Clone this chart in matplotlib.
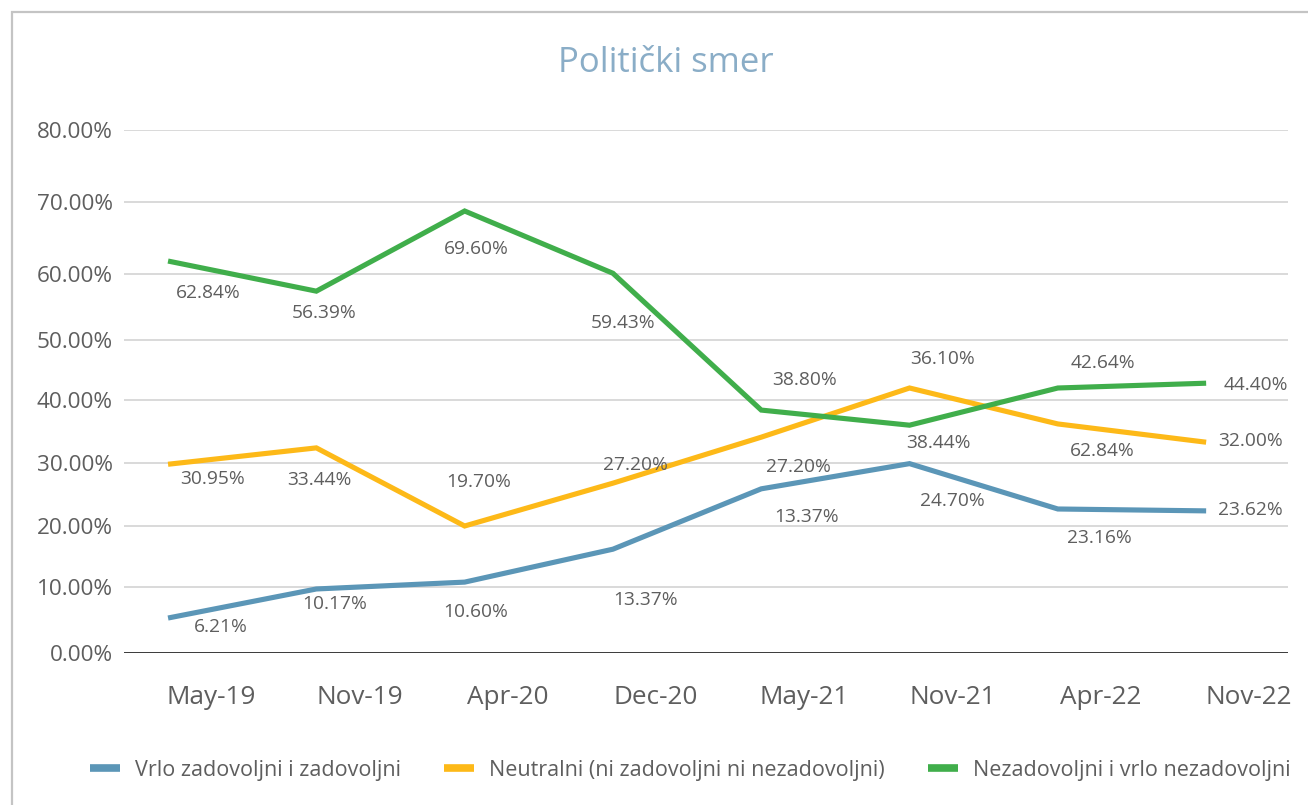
import numpy as np
import matplotlib
matplotlib.use("Agg")
import matplotlib.pyplot as plt
from matplotlib.lines import Line2D
from matplotlib.patches import Rectangle

plt.rcParams["font.family"] = ["Open Sans", "DejaVu Sans"]

# =========================
# DATA
# =========================
CATEGORIES = ["May-19", "Nov-19", "Apr-20", "Dec-20", "May-21", "Nov-21", "Apr-22", "Nov-22"]

SERIES_NAMES = [
    "Vrlo zadovoljni i zadovoljni",
    "Neutralni (ni zadovoljni ni nezadovoljni)",
    "Nezadovoljni i vrlo nezadovoljni",
]

# line heights as drawn in the chart (%)
satisfied   = [5.3, 9.7, 10.8, 16.2, 25.9, 29.9, 22.7, 22.4]
neutral     = [29.8, 32.4, 20.0, 26.8, 34.1, 42.0, 36.2, 33.3]
unsatisfied = [61.8, 57.4, 68.75, 60.1, 38.4, 36.0, 42.0, 42.8]

# data labels as printed in the chart
satisfied_labels   = ["6.21%", "10.17%", "10.60%", "13.37%", "13.37%", "24.70%", "23.16%", "23.62%"]
neutral_labels     = ["30.95%", "33.44%", "19.70%", "27.20%", "27.20%", "36.10%", "62.84%", "32.00%"]
unsatisfied_labels = ["62.84%", "56.39%", "69.60%", "59.43%", "38.80%", "38.44%", "42.64%", "44.40%"]

Y_TICKS = [0, 10, 20, 30, 40, 50, 60, 70, 80]

# =========================
# STYLE
# =========================
COLORS = ["#5B96B7", "#FDB918", "#40AE4B"]
TEXT = "#5E5E5E"
GRID = "#D9D9D9"

# gridline heights in px above the 0% line (the reference axis is not evenly spaced)
GRID_PX = [0, 66, 127, 190, 253, 313, 379, 451, 523]

# label offsets (px right, px down) from each point
OFF_SAT = [(53, 9), (18, 15), (11, 30), (33, 51), (45, 28), (43, 37), (42, 29), (44, -1)]
OFF_NEU = [(45, 15), (3, 32), (14, -44), (22, -18), (37, 30), (33, -29), (44, 27), (44, -1)]
OFF_UNS = [(40, 32), (8, 22), (12, 38), (10, 50), (43, -30), (29, 18), (45, -25), (50, 2)]


def fwd(v):
    return np.interp(v, Y_TICKS, GRID_PX)


def inv(p):
    return np.interp(p, GRID_PX, Y_TICKS)


W, H = 1308, 805
fig = plt.figure(figsize=(W / 100, H / 100), dpi=100)
fig.patch.set_facecolor("white")

ax = fig.add_axes([124 / W, 1 - 653 / H, (1288 - 124) / W, 523 / H])
ax.set_yscale("function", functions=(fwd, inv))
ax.set_ylim(0, 80)

x = np.arange(len(CATEGORIES))
ax.set_xlim(-0.297, 7.552)

series = [satisfied, neutral, unsatisfied]
labels = [satisfied_labels, neutral_labels, unsatisfied_labels]
offsets = [OFF_SAT, OFF_NEU, OFF_UNS]

for vals, col in zip(series, COLORS):
    ax.plot(x, vals, color=col, linewidth=3.7, solid_joinstyle="miter",
            solid_capstyle="butt", zorder=3)

for vals, labs, offs in zip(series, labels, offsets):
    for xi, v, lab, (dx, dy) in zip(x, vals, labs, offs):
        ax.annotate(lab, (xi, v), xytext=(dx, -dy), textcoords="offset pixels",
                    ha="center", va="center", fontsize=13.8, color=TEXT, zorder=4)

# grid + axis
ax.set_yticks(Y_TICKS)
ax.set_yticklabels([f"{t:.2f}%" for t in Y_TICKS])
for t in Y_TICKS[1:]:
    ax.axhline(t, color=GRID, linewidth=1.4, zorder=1)
ax.axhline(0, color="#2B2B2B", linewidth=1.3, zorder=2)

ax.set_xticks(x + 0.29)
ax.set_xticklabels(CATEGORIES)
ax.tick_params(axis="y", length=0, pad=8, labelsize=16.2, labelcolor=TEXT)
ax.tick_params(axis="x", length=0, pad=23, labelsize=18.8, labelcolor=TEXT)
for s in ax.spines.values():
    s.set_visible(False)
ax.set_facecolor("none")

# title
fig.text(666 / W, 1 - 63 / H, "Politički smer", ha="center", va="center",
         fontsize=25, color="#8AADC7")

# legend
handles = [Line2D([0], [0], color=c, linewidth=5.5, solid_capstyle="butt") for c in COLORS]
fig.legend(handles, SERIES_NAMES, loc="center", bbox_to_anchor=(690 / W, 1 - 770 / H),
           ncol=3, frameon=False, fontsize=15.5, labelcolor=TEXT,
           handlelength=1.4, handletextpad=0.7, columnspacing=2.0)

# outer border (partly cropped in the reference)
fig.patches.append(Rectangle((12 / W, -0.1), 1.2, 1.1 - 12 / H, transform=fig.transFigure,
                             fill=False, edgecolor="#C4C4C4", linewidth=1.6))

fig.savefig("out.png", dpi=100)
